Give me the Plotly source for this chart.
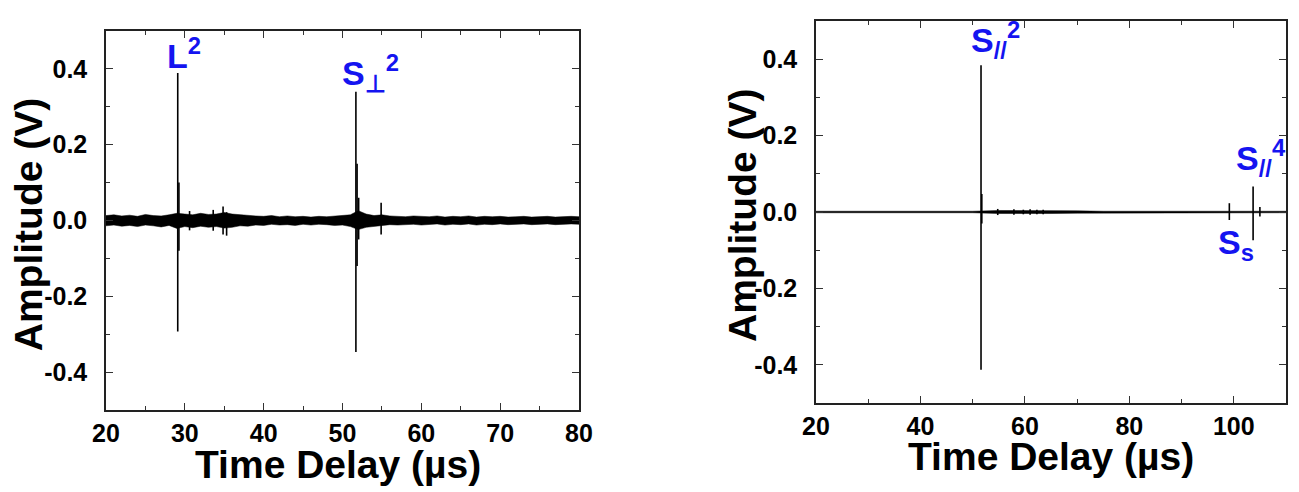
import plotly.graph_objects as go

# ---------------- data ----------------
# Left panel: noise envelope sampled every 1 µs from 20 to 80 µs (V)
left_t = list(range(20, 81))
left_upper = [0.013, 0.015, 0.012, 0.014, 0.011, 0.016, 0.013, 0.012, 0.015, 0.019,
              0.017, 0.015, 0.019, 0.016, 0.017, 0.021, 0.017, 0.015, 0.013, 0.012,
              0.011, 0.013, 0.010, 0.012, 0.010, 0.011, 0.009, 0.011, 0.010, 0.012,
              0.013, 0.015, 0.026, 0.017, 0.013, 0.015, 0.012, 0.011, 0.010, 0.012,
              0.011, 0.010, 0.012, 0.009, 0.011, 0.010, 0.012, 0.009, 0.011, 0.010,
              0.011, 0.009, 0.010, 0.011, 0.009, 0.010, 0.011, 0.009, 0.010, 0.011,
              0.010]
left_lower = [-0.014, -0.012, -0.015, -0.013, -0.016, -0.012, -0.014, -0.017, -0.013, -0.021,
              -0.016, -0.019, -0.015, -0.018, -0.016, -0.020, -0.018, -0.014, -0.015, -0.012,
              -0.013, -0.010, -0.012, -0.011, -0.013, -0.010, -0.012, -0.010, -0.011, -0.013,
              -0.012, -0.016, -0.024, -0.018, -0.014, -0.013, -0.011, -0.012, -0.011, -0.010,
              -0.012, -0.011, -0.009, -0.012, -0.010, -0.011, -0.009, -0.012, -0.010, -0.011,
              -0.009, -0.011, -0.010, -0.009, -0.011, -0.010, -0.009, -0.011, -0.010, -0.009,
              -0.010]
# Left panel: spikes (time µs, max V, min V)
left_spike_t = [29.1, 29.25, 30.6, 33.6, 34.85, 35.3, 51.7, 51.85, 52.05, 54.9]
left_spike_hi = [0.389, 0.10, 0.025, 0.028, 0.037, 0.022, 0.340, 0.150, 0.060, 0.047]
left_spike_lo = [-0.293, -0.08, -0.026, -0.027, -0.037, -0.040, -0.347, -0.120, -0.050, -0.037]

# Right panel: noise envelope sampled every 5 µs from 20 to 110 µs (V)
right_t = list(range(20, 111, 5))
right_upper = [0.002, 0.002, 0.002, 0.002, 0.002, 0.002, 0.002, 0.004, 0.004, 0.004,
               0.003, 0.002, 0.002, 0.002, 0.002, 0.002, 0.002, 0.002, 0.002]
right_lower = [-0.002, -0.002, -0.002, -0.002, -0.002, -0.002, -0.002, -0.004, -0.004, -0.004,
               -0.003, -0.002, -0.002, -0.002, -0.002, -0.002, -0.002, -0.002, -0.002]
# Right panel: spikes (time µs, max V, min V)
right_spike_t = [51.6, 51.75, 54.8, 57.9, 59.7, 61.0, 62.3, 63.5, 99.15, 103.7, 105.0]
right_spike_hi = [0.384, 0.047, 0.008, 0.007, 0.006, 0.007, 0.006, 0.006, 0.023, 0.067, 0.013]
right_spike_lo = [-0.413, -0.030, -0.008, -0.007, -0.006, -0.007, -0.006, -0.006, -0.021, -0.074, -0.012]

# Tick labels
left_xticks = [20, 30, 40, 50, 60, 70, 80]
right_xticks = [20, 40, 60, 80, 100]
yticks = [-0.4, -0.2, 0.0, 0.2, 0.4]
ytick_text = ["-0.4", "-0.2", "0.0", "0.2", "0.4"]

# Labels of the echoes
left_labels = ["L<sup>2</sup>", "S<sub>⊥</sub><sup>2</sup>"]
left_label_x = [29.85, 53.6]
left_label_y = [0.44, 0.39]
right_labels = ["S<sub>//</sub><sup>2</sup>", "S<sub>//</sub><sup>4</sup>", "S<sub>s</sub>"]
right_label_x = [54.4, 105.2, 100.5]
right_label_y = [0.45, 0.142, -0.084]

x_title = "Time Delay (µs)"
y_title = "Amplitude (V)"

# ---------------- figure ----------------
BLUE = "#1414f0"
fig = go.Figure()


def add_panel(t, up, lo, st, shi, slo, xa, ya):
    fig.add_trace(go.Scatter(x=t + t[::-1], y=up + lo[::-1], fill="toself",
                             fillcolor="black", line=dict(color="black", width=0.5),
                             mode="lines", xaxis=xa, yaxis=ya, hoverinfo="skip",
                             showlegend=False))
    xs, ys = [], []
    for ti, h, l in zip(st, shi, slo):
        xs += [ti, ti, None]
        ys += [h, l, None]
    fig.add_trace(go.Scatter(x=xs, y=ys, mode="lines",
                             line=dict(color="black", width=1.6),
                             xaxis=xa, yaxis=ya, showlegend=False))


add_panel(left_t, left_upper, left_lower, left_spike_t, left_spike_hi, left_spike_lo, "x", "y")
add_panel(right_t, right_upper, right_lower, right_spike_t, right_spike_hi, right_spike_lo, "x2", "y2")

tickfont = dict(family="Liberation Sans", size=25, weight="bold", color="black")
axis_common = dict(showline=True, linecolor="#222", linewidth=1.5, mirror="ticks",
                   ticks="inside", ticklen=7, tickwidth=1.3, tickcolor="#333",
                   showgrid=False, zeroline=False, tickfont=tickfont, automargin=False)
minor_x = dict(ticks="inside", ticklen=4, tickcolor="#333")

fig.update_layout(
    width=1299, height=492, margin=dict(l=0, r=0, t=0, b=0, autoexpand=False),
    paper_bgcolor="white", plot_bgcolor="white", showlegend=False,
    xaxis=dict(domain=[106 / 1299, 579 / 1299], range=[20, 80],
               tickvals=left_xticks, ticktext=[str(v) for v in left_xticks],
               minor=dict(dtick=5, **minor_x),
               anchor="y", ticklabelstandoff=0, **axis_common),
    yaxis=dict(domain=[82 / 492, 461 / 492], range=[-0.5, 0.5],
               tickvals=yticks, ticktext=ytick_text,
               minor=dict(dtick=0.1, **minor_x),
               anchor="x", ticklabelstandoff=12, **axis_common),
    xaxis2=dict(domain=[816 / 1299, 1286 / 1299], range=[20, 110],
                tickvals=right_xticks, ticktext=[str(v) for v in right_xticks],
                minor=dict(dtick=10, **minor_x),
                anchor="y2", ticklabelstandoff=0, **axis_common),
    yaxis2=dict(domain=[89 / 492, 471 / 492], range=[-0.5, 0.5],
                tickvals=yticks, ticktext=ytick_text,
                minor=dict(dtick=0.1, **minor_x),
                anchor="x2", ticklabelstandoff=12, **axis_common),
)

lab_font = dict(family="Liberation Sans", size=34, weight="bold", color=BLUE)
for txt, x, y in zip(left_labels, left_label_x, left_label_y):
    fig.add_annotation(text=txt, x=x, y=y, xref="x", yref="y", showarrow=False,
                       xanchor="center", yanchor="middle", font=lab_font)
for txt, x, y in zip(right_labels, right_label_x, right_label_y):
    fig.add_annotation(text=txt, x=x, y=y, xref="x2", yref="y2", showarrow=False,
                       xanchor="center", yanchor="middle", font=lab_font)

title_font = dict(family="Liberation Sans", size=39, weight="bold", color="black")
# axis titles placed relative to each plot area
fig.add_annotation(text=x_title, xref="x domain", yref="y domain", x=0.49, y=-0.145,
                   xanchor="center", yanchor="middle", showarrow=False, font=title_font)
fig.add_annotation(text=y_title, xref="x domain", yref="y domain", x=-0.165, y=0.49,
                   xanchor="center", yanchor="middle", textangle=-90, showarrow=False,
                   font=title_font)
fig.add_annotation(text=x_title, xref="x2 domain", yref="y2 domain", x=0.5, y=-0.14,
                   xanchor="center", yanchor="middle", showarrow=False, font=title_font)
fig.add_annotation(text=y_title, xref="x2 domain", yref="y2 domain", x=-0.155, y=0.49,
                   xanchor="center", yanchor="middle", textangle=-90, showarrow=False,
                   font=title_font)

fig.write_html("out.html")
